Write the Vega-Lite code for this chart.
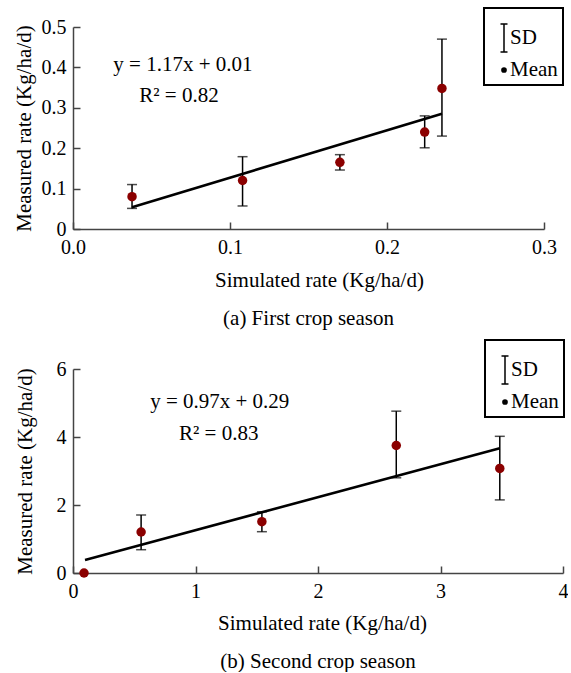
{
  "$schema": "https://vega.github.io/schema/vega-lite/v6.json",
  "padding": {"left": 12, "top": 7, "right": 0, "bottom": 0},
  "background": "white",
  "datasets": {
    "pts1": [
      {"x": 0.0376, "y": 0.080, "lo": 0.051, "hi": 0.110},
      {"x": 0.108, "y": 0.120, "lo": 0.057, "hi": 0.179},
      {"x": 0.170, "y": 0.165, "lo": 0.146, "hi": 0.184},
      {"x": 0.224, "y": 0.240, "lo": 0.201, "hi": 0.280},
      {"x": 0.235, "y": 0.348, "lo": 0.230, "hi": 0.470}
    ],
    "fit1": [{"x": 0.0376, "y": 0.054}, {"x": 0.235, "y": 0.285}],
    "eq1": [
      {"x": 0.070, "y": 0.406, "text": "y = 1.17x + 0.01"},
      {"x": 0.0675, "y": 0.329, "text": "R²  = 0.82"}
    ],
    "pts2": [
      {"x": 0.09, "y": 0.0, "lo": null, "hi": null},
      {"x": 0.556, "y": 1.206, "lo": 0.685, "hi": 1.706},
      {"x": 1.542, "y": 1.509, "lo": 1.215, "hi": 1.80},
      {"x": 2.639, "y": 3.75, "lo": 2.80, "hi": 4.76},
      {"x": 3.484, "y": 3.076, "lo": 2.15, "hi": 4.02}
    ],
    "fit2": [{"x": 0.098, "y": 0.385}, {"x": 3.484, "y": 3.67}],
    "eq2": [
      {"x": 1.198, "y": 5.04, "text": "y = 0.97x + 0.29"},
      {"x": 1.19, "y": 4.10, "text": "R² = 0.83"}
    ],
    "keys": [{"k": "SD"}, {"k": "Mean"}]
  },
  "vconcat": [
    {
      "width": 471,
      "height": 202,
      "title": {"text": "(a) First crop season", "orient": "bottom", "offset": 18},
      "layer": [
        {
          "data": {"name": "pts1"},
          "mark": {"type": "errorbar", "color": "black", "ticks": {"size": 10, "thickness": 1.5}, "rule": {"strokeWidth": 1.5}},
          "encoding": {
            "x": {"field": "x", "type": "quantitative", "title": "Simulated rate (Kg/ha/d)",
              "scale": {"domain": [0, 0.3], "nice": false, "zero": false},
              "axis": {"values": [0, 0.1, 0.2, 0.3], "format": ".1f", "ticks": true, "tickSize": -7, "labelOverlap": false, "titleX": 246, "titleY": 51, "titleBaseline": "middle"}},
            "y": {"field": "lo", "type": "quantitative", "title": "Measured rate (Kg/ha/d)",
              "scale": {"domain": [0, 0.5], "nice": false},
              "axis": {"values": [0, 0.1, 0.2, 0.3, 0.4, 0.5], "labelExpr": "datum.value === 0 ? '0' : format(datum.value, '.1f')", "ticks": true, "tickSize": -7, "labelOverlap": false, "titleX": -49, "titleY": 101, "titleBaseline": "middle"}},
            "y2": {"field": "hi"}
          }
        },
        {
          "data": {"name": "fit1"},
          "mark": {"type": "line", "color": "black", "strokeWidth": 2.6},
          "encoding": {
            "x": {"field": "x", "type": "quantitative", "title": "Simulated rate (Kg/ha/d)",
              "scale": {"domain": [0, 0.3], "nice": false, "zero": false},
              "axis": {"values": [0, 0.1, 0.2, 0.3], "format": ".1f", "ticks": true, "tickSize": -7, "labelOverlap": false, "titleX": 246, "titleY": 51, "titleBaseline": "middle"}},
            "y": {"field": "y", "type": "quantitative", "title": "Measured rate (Kg/ha/d)",
              "scale": {"domain": [0, 0.5], "nice": false},
              "axis": {"values": [0, 0.1, 0.2, 0.3, 0.4, 0.5], "labelExpr": "datum.value === 0 ? '0' : format(datum.value, '.1f')", "ticks": true, "tickSize": -7, "labelOverlap": false, "titleX": -49, "titleY": 101, "titleBaseline": "middle"}}
          }
        },
        {
          "data": {"name": "pts1"},
          "mark": {"type": "point", "shape": "circle", "filled": true, "color": "#8b0000", "size": 90, "opacity": 1},
          "encoding": {
            "x": {"field": "x", "type": "quantitative", "title": "Simulated rate (Kg/ha/d)",
              "scale": {"domain": [0, 0.3], "nice": false, "zero": false},
              "axis": {"values": [0, 0.1, 0.2, 0.3], "format": ".1f", "ticks": true, "tickSize": -7, "labelOverlap": false, "titleX": 246, "titleY": 51, "titleBaseline": "middle"}},
            "y": {"field": "y", "type": "quantitative", "title": "Measured rate (Kg/ha/d)",
              "scale": {"domain": [0, 0.5], "nice": false},
              "axis": {"values": [0, 0.1, 0.2, 0.3, 0.4, 0.5], "labelExpr": "datum.value === 0 ? '0' : format(datum.value, '.1f')", "ticks": true, "tickSize": -7, "labelOverlap": false, "titleX": -49, "titleY": 101, "titleBaseline": "middle"}}
          }
        },
        {
          "data": {"name": "eq1"},
          "mark": {"type": "text", "font": "Liberation Serif", "fontSize": 21, "color": "black", "align": "center", "baseline": "middle"},
          "encoding": {
            "x": {"field": "x", "type": "quantitative"},
            "y": {"field": "y", "type": "quantitative"},
            "text": {"field": "text"}
          }
        },
        {
          "data": {"name": "keys"},
          "mark": {"type": "point", "filled": false, "color": "black", "opacity": 0},
          "encoding": {
            "shape": {"field": "k", "type": "nominal",
              "scale": {"domain": ["SD", "Mean"], "range": ["M0,-1L0,1M-0.25,-1L0.25,-1M-0.25,1L0.25,1", "M0.15,0A0.15,0.15,0,1,1,-0.15,0A0.15,0.15,0,1,1,0.15,0ZM0.1,0A0.1,0.1,0,1,1,-0.1,0A0.1,0.1,0,1,1,0.1,0ZM0.05,0A0.05,0.05,0,1,1,-0.05,0A0.05,0.05,0,1,1,0.05,0Z"]},
              "legend": {"orient": "none", "legendX": 411, "legendY": -19, "title": "\u00a0", "titleFontSize": 8, "titlePadding": 2,
                "symbolStrokeColor": "black", "symbolStrokeWidth": 1.5, "symbolOpacity": 1}}
          }
        }
      ]
    },
    {
      "width": 490,
      "height": 204,
      "title": {"text": "(b) Second crop season", "orient": "bottom", "offset": 18},
      "layer": [
        {
          "data": {"name": "pts2"},
          "transform": [{"filter": "isValid(datum.lo)"}],
          "mark": {"type": "errorbar", "color": "black", "ticks": {"size": 10, "thickness": 1.5}, "rule": {"strokeWidth": 1.5}},
          "encoding": {
            "x": {"field": "x", "type": "quantitative", "title": "Simulated rate (Kg/ha/d)",
              "scale": {"domain": [0, 4], "nice": false},
              "axis": {"values": [0, 1, 2, 3, 4], "format": "d", "ticks": true, "tickSize": -7, "labelOverlap": false, "titleX": 249, "titleY": 50, "titleBaseline": "middle"}},
            "y": {"field": "lo", "type": "quantitative", "title": "Measured rate (Kg/ha/d)",
              "scale": {"domain": [0, 6], "nice": false},
              "axis": {"values": [0, 1, 2, 3, 4, 5, 6], "format": "d", "ticks": true, "tickSize": -7, "labelOverlap": false, "titleX": -48, "titleY": 102, "titleBaseline": "middle"}},
            "y2": {"field": "hi"}
          }
        },
        {
          "data": {"name": "fit2"},
          "mark": {"type": "line", "color": "black", "strokeWidth": 2.6},
          "encoding": {
            "x": {"field": "x", "type": "quantitative", "title": "Simulated rate (Kg/ha/d)",
              "scale": {"domain": [0, 4], "nice": false},
              "axis": {"values": [0, 1, 2, 3, 4], "format": "d", "ticks": true, "tickSize": -7, "labelOverlap": false, "titleX": 249, "titleY": 50, "titleBaseline": "middle"}},
            "y": {"field": "y", "type": "quantitative", "title": "Measured rate (Kg/ha/d)",
              "scale": {"domain": [0, 6], "nice": false},
              "axis": {"values": [0, 1, 2, 3, 4, 5, 6], "format": "d", "ticks": true, "tickSize": -7, "labelOverlap": false, "titleX": -48, "titleY": 102, "titleBaseline": "middle"}}
          }
        },
        {
          "data": {"name": "pts2"},
          "mark": {"type": "point", "shape": "circle", "filled": true, "color": "#8b0000", "size": 90, "opacity": 1},
          "encoding": {
            "x": {"field": "x", "type": "quantitative", "title": "Simulated rate (Kg/ha/d)",
              "scale": {"domain": [0, 4], "nice": false},
              "axis": {"values": [0, 1, 2, 3, 4], "format": "d", "ticks": true, "tickSize": -7, "labelOverlap": false, "titleX": 249, "titleY": 50, "titleBaseline": "middle"}},
            "y": {"field": "y", "type": "quantitative", "title": "Measured rate (Kg/ha/d)",
              "scale": {"domain": [0, 6], "nice": false},
              "axis": {"values": [0, 1, 2, 3, 4, 5, 6], "format": "d", "ticks": true, "tickSize": -7, "labelOverlap": false, "titleX": -48, "titleY": 102, "titleBaseline": "middle"}}
          }
        },
        {
          "data": {"name": "eq2"},
          "mark": {"type": "text", "font": "Liberation Serif", "fontSize": 21, "color": "black", "align": "center", "baseline": "middle"},
          "encoding": {
            "x": {"field": "x", "type": "quantitative"},
            "y": {"field": "y", "type": "quantitative"},
            "text": {"field": "text"}
          }
        },
        {
          "data": {"name": "keys"},
          "mark": {"type": "point", "filled": false, "color": "black", "opacity": 0},
          "encoding": {
            "shape": {"field": "k", "type": "nominal",
              "scale": {"domain": ["SD", "Mean"], "range": ["M0,-1L0,1M-0.25,-1L0.25,-1M-0.25,1L0.25,1", "M0.15,0A0.15,0.15,0,1,1,-0.15,0A0.15,0.15,0,1,1,0.15,0ZM0.1,0A0.1,0.1,0,1,1,-0.1,0A0.1,0.1,0,1,1,0.1,0ZM0.05,0A0.05,0.05,0,1,1,-0.05,0A0.05,0.05,0,1,1,0.05,0Z"]},
              "legend": {"orient": "none", "legendX": 412, "legendY": -29, "title": "\u00a0", "titleFontSize": 8, "titlePadding": 2,
                "symbolStrokeColor": "black", "symbolStrokeWidth": 1.5, "symbolOpacity": 1}}
          }
        }
      ]
    }
  ],
  "spacing": 10,
  "resolve": {"scale": {"shape": "independent"}, "legend": {"shape": "independent"}},
  "config": {
    "view": {"stroke": null},
    "font": "Liberation Serif",
    "title": {"font": "Liberation Serif", "fontSize": 21, "fontWeight": "normal", "color": "black", "anchor": "middle"},
    "axis": {
      "grid": false,
      "domainColor": "#444",
      "domainWidth": 1.5,
      "tickColor": "#444",
      "tickWidth": 1.5,
      "labelFont": "Liberation Serif",
      "labelFontSize": 20,
      "labelColor": "black",
      "labelFlush": false,
      "titleFont": "Liberation Serif",
      "titleFontSize": 21,
      "titleFontWeight": "normal",
      "titleColor": "black"
    },
    "axisX": {"labelPadding": 15},
    "axisY": {"labelPadding": 14},
    "legend": {
      "padding": 5,
      "strokeColor": "black",
      "strokeWidth": 2,
      "symbolSize": 784,
      "labelFont": "Liberation Serif",
      "labelFontSize": 21,
      "labelColor": "black",
      "labelOffset": -9,
      "labelExpr": "datum.label + '  '",
      "rowPadding": -1
    }
  }
}
